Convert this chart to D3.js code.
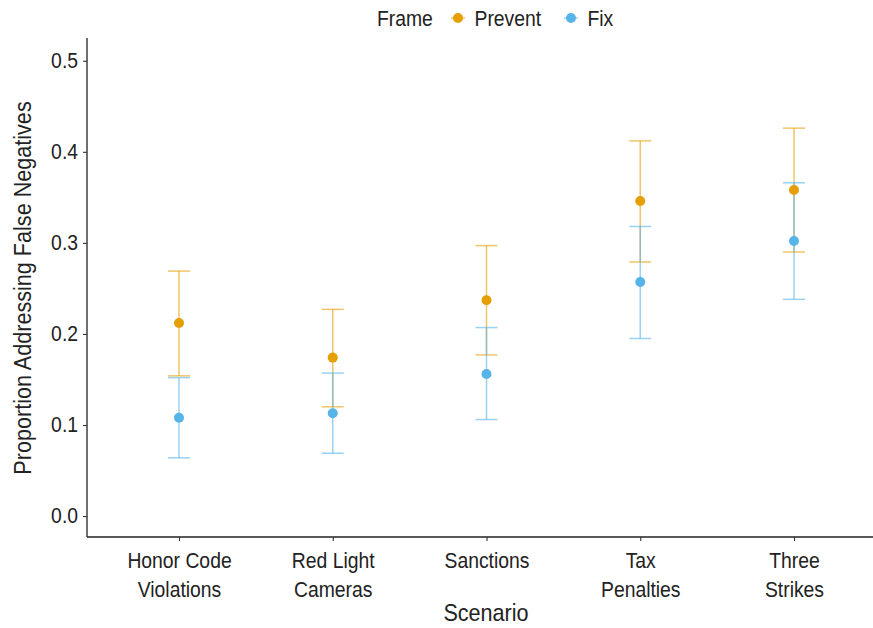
<!DOCTYPE html>
<html><head><meta charset="utf-8">
<script src="https://cdn.jsdelivr.net/npm/d3@7/dist/d3.min.js"></script>
<style>body{margin:0;background:#fff}text{font-family:"Liberation Sans",Arial,sans-serif;fill:#222}</style>
</head><body><svg id="c" width="873" height="628"></svg>
<script>
const categories = ["Honor Code|Violations","Red Light|Cameras","Sanctions","Tax|Penalties","Three|Strikes"];
const frames = ["Prevent","Fix"];
const preventMean  = [0.212,0.174,0.237,0.346,0.358];
const preventLower = [0.154,0.120,0.177,0.279,0.290];
const preventUpper = [0.269,0.227,0.297,0.412,0.426];
const fixMean  = [0.108,0.113,0.156,0.257,0.302];
const fixLower = [0.064,0.069,0.106,0.195,0.238];
const fixUpper = [0.152,0.157,0.207,0.318,0.366];
const yTicks = [0.0,0.1,0.2,0.3,0.4,0.5];
const colors = {Prevent:"#E69F00", Fix:"#56B4E9"};
const SX = 0.9; // horizontal condensing of text

const svg = d3.select("#c");
const x = d3.scalePoint().domain(categories).range([179,794]);
const y = d3.scaleLinear().domain([-0.023,0.525]).range([537,38]);

const series = [
  {frame:"Prevent", mean:preventMean, lo:preventLower, hi:preventUpper},
  {frame:"Fix", mean:fixMean, lo:fixLower, hi:fixUpper}
];

function ctext(parent, px, py, str, size, anchor){
  const g = parent.append("g").attr("transform",`translate(${px},${py}) scale(${SX},1)`);
  return g.append("text").attr("x",0).attr("y",0).attr("font-size",size).attr("text-anchor",anchor||"start").text(str);
}

// axes
const ya = svg.append("g").attr("transform","translate(87,0)")
  .call(d3.axisLeft(y).tickValues(yTicks).tickFormat(d3.format(".1f")).tickSize(4).tickPadding(5));
const xa = svg.append("g").attr("transform","translate(0,537)")
  .call(d3.axisBottom(x).tickSize(4).tickFormat(""));
[ya,xa].forEach(a=>{a.select(".domain").attr("stroke","#222").attr("stroke-width",1.3);
  a.selectAll(".tick line").attr("stroke","#333").attr("stroke-width",1.1);});
ya.select(".domain").attr("d","M0,38V537");
xa.select(".domain").attr("d","M87,0H873");
ya.selectAll(".tick text").attr("font-size",21.5).attr("fill","#222")
  .style("font-family",'"Liberation Sans",Arial,sans-serif')
  .attr("x",-9/SX).attr("transform",`scale(${SX},1)`);

xa.selectAll(".tick").each(function(d){
  const lines = d.split("|");
  const g = d3.select(this).append("g").attr("transform",`scale(${SX},1)`);
  const t = g.append("text").attr("text-anchor","middle").attr("font-size",21.5).attr("fill","#222");
  lines.forEach((l,i)=>t.append("tspan").attr("x",0).attr("y",31+i*29).text(l));
});

// error bars
const cap = 11;
series.forEach(s=>{
  const g = svg.append("g").attr("stroke",colors[s.frame]).attr("stroke-width",1.5).attr("stroke-opacity",0.6).attr("fill","none");
  categories.forEach((c,i)=>{
    const cx = x(c);
    g.append("line").attr("x1",cx).attr("x2",cx).attr("y1",y(s.lo[i])).attr("y2",y(s.hi[i]));
    g.append("line").attr("x1",cx-cap).attr("x2",cx+cap).attr("y1",y(s.lo[i])).attr("y2",y(s.lo[i]));
    g.append("line").attr("x1",cx-cap).attr("x2",cx+cap).attr("y1",y(s.hi[i])).attr("y2",y(s.hi[i]));
  });
});
series.forEach(s=>{
  svg.append("g").selectAll("circle").data(categories).join("circle")
    .attr("cx",d=>x(d)).attr("cy",(d,i)=>y(s.mean[i])).attr("r",5).attr("fill",colors[s.frame]);
});

// axis titles
ctext(svg, 486, 621, "Scenario", 24, "middle");
const yt = svg.append("g").attr("transform",`translate(31,288) rotate(-90) scale(${SX},1)`);
yt.append("text").attr("text-anchor","middle").attr("font-size",24).text("Proportion Addressing False Negatives");

// legend
const lg = svg.append("g");
ctext(lg, 377, 26, "Frame", 21.5);
frames.forEach((f,i)=>{
  const cx = i===0?458:571;
  lg.append("line").attr("x1",cx-7).attr("x2",cx+7).attr("y1",18).attr("y2",18).attr("stroke",colors[f]).attr("stroke-width",1.5).attr("stroke-opacity",0.6);
  lg.append("circle").attr("cx",cx).attr("cy",18).attr("r",5).attr("fill",colors[f]);
  ctext(lg, cx+16.5, 26, f, 21.5);
});
</script></body></html>
